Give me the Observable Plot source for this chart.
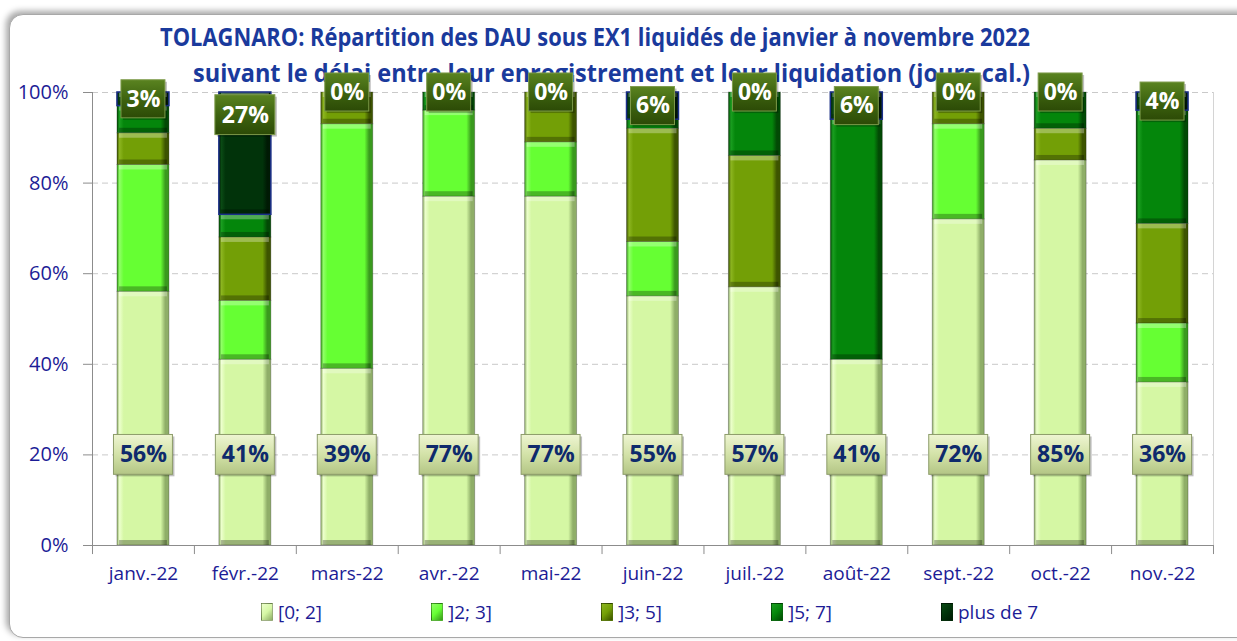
<!DOCTYPE html>
<html>
<head>
<meta charset="utf-8">
<script src="https://cdn.jsdelivr.net/npm/d3@7"></script>
<script src="https://cdn.jsdelivr.net/npm/@observablehq/plot@0.6"></script>
<style>
  body { margin: 0; background: #fff; font-family: "Open Sans", sans-serif; }
  #wrap { position: relative; width: 1237px; height: 641px; overflow: hidden; background: #fff; }
  #frame { position: absolute; left: 9px; top: 14px; width: 1250px; height: 622px; border: 1.5px solid #a8a8a8;
           border-radius: 14px; box-shadow: -3px -3px 6px rgba(0,0,0,0.35); background: #fff; }
  #title { position: absolute; left: 0; top: 0; }
  #chart { position: absolute; left: 0; top: 0; }
  #legend { position: absolute; left: 261px; top: 599px; display: flex; color: #1c1c96; font-size: 19px; }
  #legend .item { width: 170px; display: flex; align-items: center; }
  #legend .sw { width: 10px; height: 16px; margin-right: 5px; border: 1px solid rgba(0,0,0,0.3); }
</style>
</head>
<body>
<div id="wrap">
  <div id="frame"></div>
  <svg id="title" width="1237" height="100"></svg>
  <div id="chart"></div>
  <div id="legend"></div>
</div>
<svg width="0" height="0" style="position:absolute">
  <defs id="defs"></defs>
</svg>
<script>
// ---- data ----
const months = ["janv.-22","févr.-22","mars-22","avr.-22","mai-22","juin-22","juil.-22","août-22","sept.-22","oct.-22","nov.-22"];
const series = ["[0; 2]", "]2; 3]", "]3; 5]", "]5; 7]", "plus de 7"];
const v0_2  = [56, 41, 39, 77, 77, 55, 57, 41, 72, 85, 36];
const v2_3  = [28, 13, 54, 19, 12, 12,  0,  0, 21,  0, 13];
const v3_5  = [ 7, 14,  7,  0, 11, 25, 29,  0,  7,  7, 22];
const v5_7  = [ 6,  5,  0,  4,  0,  2, 14, 53,  0,  8, 25];
const v7p   = [ 3, 27,  0,  0,  0,  6,  0,  6,  0,  0,  4];
const yTicks = [0, 20, 40, 60, 80, 100];
const titleLines = ["TOLAGNARO: Répartition des DAU sous EX1 liquidés de janvier à novembre 2022",
                    "suivant le délai entre leur enregistrement et leur liquidation (jours cal.)"];

// ---- styles ----
const palette = [
  {base: "#d5f7a4", light: "#ecffcc", dark: "#8fae68"},
  {base: "#66ff33", light: "#90ff66", dark: "#3a9a1e"},
  {base: "#739f06", light: "#8cb520", dark: "#3d5400"},
  {base: "#04860b", light: "#1a9e20", dark: "#024a05"},
  {base: "#01330a", light: "#0a4a14", dark: "#001a04"}
];
const navy = "#1c1c96";

// gradients
const defs = d3.select("#defs");
palette.forEach((p, i) => {
  const g = defs.append("linearGradient").attr("id", "g" + i).attr("x1", 0).attr("x2", 1).attr("y1", 0).attr("y2", 0);
  [[0, p.dark], [0.05, p.light], [0.13, p.base], [0.84, p.base], [0.93, p.dark], [1, p.dark]]
    .forEach(([o, c]) => g.append("stop").attr("offset", o).attr("stop-color", c));
});
const lb = defs.append("linearGradient").attr("id", "lb").attr("x1", 0).attr("x2", 0).attr("y1", 0).attr("y2", 1);
[[0, "#eef5d2"], [0.5, "#d3e2a8"], [1, "#b3c585"]].forEach(([o, c]) => lb.append("stop").attr("offset", o).attr("stop-color", c));
const lt = defs.append("linearGradient").attr("id", "lt").attr("x1", 0).attr("x2", 0).attr("y1", 0).attr("y2", 1);
[[0, "#5a8320"], [0.5, "#3e6410"], [1, "#2c4a06"]].forEach(([o, c]) => lt.append("stop").attr("offset", o).attr("stop-color", c));

// ---- segments (stacked) ----
const vals = [v0_2, v2_3, v3_5, v5_7, v7p];
const segs = [];
months.forEach((m, i) => {
  let acc = 0;
  series.forEach((s, j) => {
    const v = vals[j][i];
    if (v > 0) segs.push({month: m, series: s, value: v, y1: acc, y2: acc + v});
    acc += v;
  });
});
const topLabels = months.map((m, i) => ({month: m, value: v7p[i], ly: Math.max(100 - v7p[i] / 2, 95)}));
const bottomLabels = months.map((m, i) => ({month: m, value: v0_2[i]}));
const half = 1121 / 11 / 2;

const chart = Plot.plot({
  width: 1237,
  height: 641,
  marginLeft: 92,
  marginRight: 24,
  marginTop: 92,
  marginBottom: 96,
  style: {background: "transparent", overflow: "visible", fontFamily: "Open Sans, sans-serif"},
  x: {type: "band", domain: months, paddingInner: 0.49, paddingOuter: 0.245, round: false, label: null},
  y: {domain: [0, 100], label: null},
  color: {type: "ordinal", domain: series, range: series.map((s, i) => `url(#g${i})`)},
  marks: [
    Plot.ruleY(yTicks.filter(d => d > 0), {stroke: "#c9c9c9", strokeDasharray: "6,4"}),
    Plot.ruleX([months[10]], {x: d => d, dx: half, y1: 0, y2: 100, stroke: "#d4d4d4"}),
    Plot.barY(segs, {x: "month", y1: "y1", y2: "y2", fill: "series", stroke: "rgba(0,0,0,0.25)", strokeWidth: 1}),
    Plot.barY(segs.filter(d => d.value >= 3), {x: "month", y1: d => d.y2 - 1.1, y2: "y2", fill: "white", fillOpacity: 0.3, insetLeft: 2, insetRight: 2}),
    Plot.barY(segs.filter(d => d.value >= 3), {x: "month", y1: "y1", y2: d => d.y1 + 1.1, fill: "black", fillOpacity: 0.28, insetLeft: 2, insetRight: 2}),
    Plot.barY(segs.filter(d => d.series === "plus de 7"), {x: "month", y1: "y1", y2: "y2", fill: "none", stroke: "#1a2f8a", strokeWidth: 1.5}),
    // axes
    Plot.ruleY([0], {stroke: "#8c8c8c"}),
    Plot.ruleX([months[0]], {x: d => d, dx: -half, y1: 0, y2: 100, stroke: "#8c8c8c"}),
    Plot.ruleX(months, {x: d => d, dx: -half, y1: 0, y2: -2, stroke: "#8c8c8c"}),
    Plot.ruleX([months[10]], {x: d => d, dx: half, y1: 0, y2: -2, stroke: "#8c8c8c"}),
    Plot.axisY({ticks: yTicks, tickFormat: d => d + "%", tickSize: 9, tickPadding: 15, fontSize: 20, color: navy, stroke: "#8c8c8c"}),
    Plot.axisX({tickSize: 0, tickPadding: 21, fontSize: 19, color: navy}),
    // bottom labels ([0; 2])
    Plot.barY(bottomLabels, {x: "month", y1: 15.6, y2: 24.4, dx: 2, dy: 2, insetLeft: -3.5, insetRight: -3.5, fill: "rgba(0,0,0,0.25)"}),
    Plot.barY(bottomLabels, {x: "month", y1: 15.6, y2: 24.4, insetLeft: -3.5, insetRight: -3.5, fill: "url(#lb)", stroke: "#8d9c6a", strokeWidth: 1}),
    Plot.text(bottomLabels, {x: "month", y: 20, text: d => d.value + "%", fill: "#0e2a6c", fontSize: 23, fontWeight: "bold"}),
    // top labels (plus de 7)
    Plot.barY(topLabels.filter(d => d.value < 10), {x: "month", y1: d => d.ly - 4.2, y2: d => d.ly + 4.2, dx: 2, dy: 2, insetLeft: 4, insetRight: 4, fill: "rgba(0,0,0,0.25)"}),
    Plot.barY(topLabels.filter(d => d.value < 10), {x: "month", y1: d => d.ly - 4.2, y2: d => d.ly + 4.2, insetLeft: 4, insetRight: 4, fill: "url(#lt)", stroke: "#7d9a4a", strokeWidth: 1}),
    Plot.barY(topLabels.filter(d => d.value >= 10), {x: "month", y1: d => d.ly - 4.4, y2: d => d.ly + 4.4, dx: 2, dy: 2, insetLeft: -4, insetRight: -4, fill: "rgba(0,0,0,0.25)"}),
    Plot.barY(topLabels.filter(d => d.value >= 10), {x: "month", y1: d => d.ly - 4.4, y2: d => d.ly + 4.4, insetLeft: -4, insetRight: -4, fill: "url(#lt)", stroke: "#7d9a4a", strokeWidth: 1}),
    Plot.text(topLabels, {x: "month", y: "ly", text: d => d.value + "%", fill: "white", fontSize: 23, fontWeight: "bold"})
  ]
});
document.getElementById("chart").appendChild(chart);

// ---- title ----
const tsvg = d3.select("#title");
const tl = [{x: 160, y: 46, w: 870}, {x: 193, y: 82, w: 837}];
titleLines.forEach((t, i) => {
  tsvg.append("text").attr("x", tl[i].x).attr("y", tl[i].y)
    .attr("textLength", tl[i].w).attr("lengthAdjust", "spacingAndGlyphs")
    .attr("font-family", "Open Sans, sans-serif").attr("font-weight", "bold").attr("font-size", 25)
    .attr("fill", "#1a3a9c").text(t);
});

// ---- legend ----
const leg = d3.select("#legend");
series.forEach((s, i) => {
  const it = leg.append("div").attr("class", "item");
  it.append("div").attr("class", "sw").style("background", `linear-gradient(135deg, ${palette[i].light}, ${palette[i].base} 50%, ${palette[i].dark})`);
  it.append("span").text(s);
});
</script>
</body>
</html>
